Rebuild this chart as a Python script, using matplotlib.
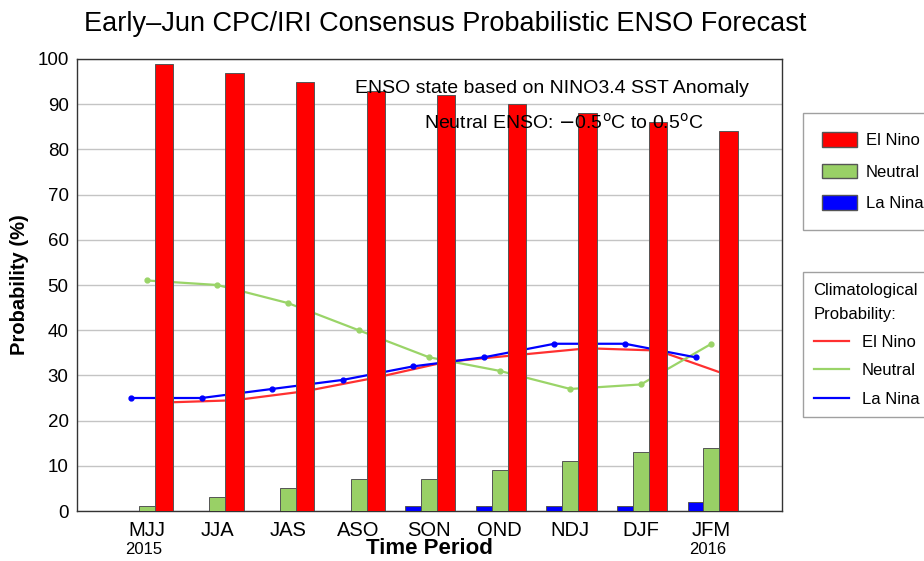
import matplotlib
matplotlib.use("Agg")
import matplotlib.pyplot as plt
from matplotlib.patches import Patch
from matplotlib.lines import Line2D
from matplotlib.transforms import blended_transform_factory
import numpy as np

plt.rcParams['font.family'] = ['Liberation Sans', 'DejaVu Sans']

# data
seasons = ["MJJ", "JJA", "JAS", "ASO", "SON", "OND", "NDJ", "DJF", "JFM"]
years = {0: "2015", 8: "2016"}
el_nino = [99, 97, 95, 93, 92, 90, 88, 86, 84]
neutral = [1, 3, 5, 7, 7, 9, 11, 13, 14]
la_nina = [0, 0, 0, 0, 1, 1, 1, 1, 2]
clim_el_nino = [24, 24.5, 26.5, 29.5, 33, 34.5, 36, 35.5, 30]
clim_neutral = [51, 50, 46, 40, 34, 31, 27, 28, 37]
clim_la_nina = [25, 25, 27, 29, 32, 34, 37, 37, 34]

RED = "#ff0000"
GREEN = "#99d066"
BLUE = "#0000ff"

fig = plt.figure(figsize=(9.24, 5.61), dpi=100)
ax = fig.add_axes([77 / 924, 50 / 561, 705 / 924, 452 / 561])

x = np.arange(len(seasons))
w_small = 0.225
w_red = 0.26
off_blue = -w_small
off_red = w_small / 2 + w_red / 2

# climatological lines (behind bars)
ax.plot(x + off_red, clim_el_nino, color="#ff3030", lw=1.6, zorder=2)
ax.plot(x, clim_neutral, color="#9ad468", lw=1.6, marker="o", ms=3.5, zorder=2)
ax.plot(x + off_blue, clim_la_nina, color=BLUE, lw=1.6, marker="o", ms=3.5, zorder=2)

bar_kw = dict(edgecolor="#555555", linewidth=0.7, zorder=3)
ax.bar(x + off_blue, la_nina, w_small, color=BLUE, **bar_kw)
ax.bar(x, neutral, w_small, color=GREEN, **bar_kw)
ax.bar(x + off_red, el_nino, w_red, color=RED, **bar_kw)

ax.set_xlim(-0.99, 9.0)
ax.set_ylim(0, 100)
ax.set_yticks(range(0, 101, 10))
ax.set_xticks(x)
ax.set_xticklabels(seasons, fontsize=14.5)
ax.tick_params(axis="y", labelsize=13.5, length=0, pad=6)
ax.tick_params(axis="x", length=0, pad=7)
ax.grid(axis="y", color="#c4c4c4", lw=1, zorder=0)
ax.set_axisbelow(True)
for s in ax.spines.values():
    s.set_color("#333333")
    s.set_linewidth(1)

trans = blended_transform_factory(ax.transData, ax.transAxes)
for i, yr in years.items():
    ax.text(i - 0.05, -0.085, yr, transform=trans, ha="center", va="center", fontsize=12)

ax.set_xlabel("Time Period", fontsize=16, fontweight="bold", labelpad=-1)
ax.set_ylabel("Probability (%)", fontsize=14.5, fontweight="bold", labelpad=6)

fig.text(445 / 924, 1 - 24 / 561, "Early\u2013Jun CPC/IRI Consensus Probabilistic ENSO Forecast",
         ha="center", va="center", fontsize=19.5)

ax.text(0.673, 0.934, "ENSO state based on NINO3.4 SST Anomaly", transform=ax.transAxes,
        ha="center", va="center", fontsize=14)
ax.text(0.691, 0.858, r"Neutral ENSO: $-$0.5$^{\rm o}$C to 0.5$^{\rm o}$C", transform=ax.transAxes,
        ha="center", va="center", fontsize=14)

handles1 = [Patch(facecolor=RED, edgecolor="#555555", label="El Nino"),
            Patch(facecolor=GREEN, edgecolor="#555555", label="Neutral"),
            Patch(facecolor=BLUE, edgecolor="#555555", label="La Nina")]
leg1 = fig.legend(handles=handles1, loc="upper left", bbox_to_anchor=(803 / 924, 1 - 113 / 561),
                  fontsize=12, frameon=True, fancybox=False, edgecolor="#888888",
                  handlelength=2.1, handleheight=0.99, labelspacing=0.92, borderpad=1.15,
                  handletextpad=0.5, borderaxespad=0)
leg1.get_frame().set_linewidth(1)

handles2 = [Line2D([], [], color="#ff3030", lw=1.6, label="El Nino"),
            Line2D([], [], color="#9ad468", lw=1.6, label="Neutral"),
            Line2D([], [], color=BLUE, lw=1.6, label="La Nina")]
leg2 = fig.legend(handles=handles2, loc="upper left", bbox_to_anchor=(803 / 924, 1 - 272 / 561),
                  fontsize=12, frameon=True, fancybox=False, edgecolor="#888888",
                  title="Climatological\nProbability:", title_fontsize=12,
                  handlelength=2.1, labelspacing=0.8, borderpad=0.63,
                  handletextpad=0.8, borderaxespad=0, alignment="left")
leg2.get_frame().set_linewidth(1)
leg2.get_title().set_linespacing(1.75)

fig.savefig("out.png", dpi=100)
